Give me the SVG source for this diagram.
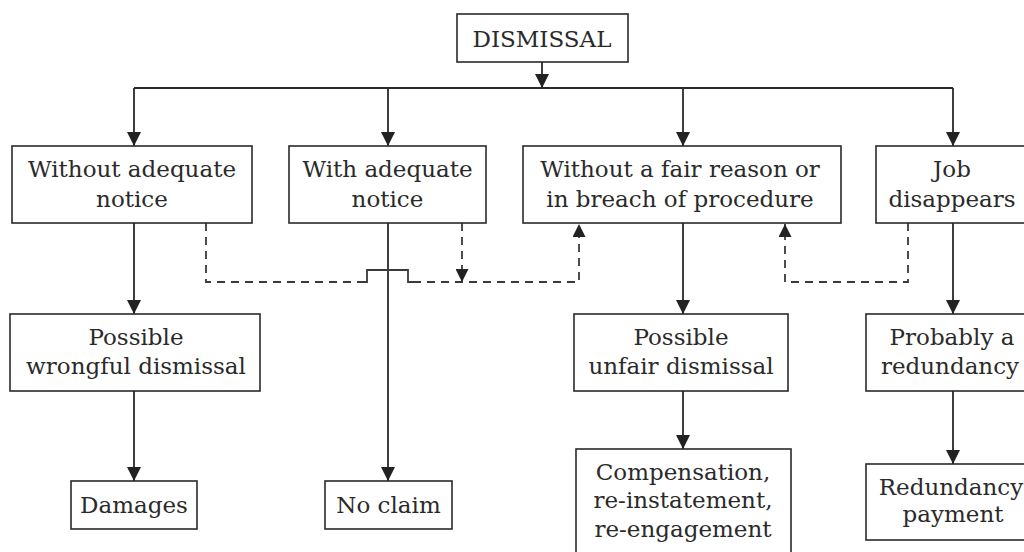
<svg xmlns="http://www.w3.org/2000/svg" width="1024" height="552" viewBox="0 0 1024 552">
<defs>
<style>
.box{fill:#fff;stroke:#2a2a2a;stroke-width:1.6}
.t{font-family:"DejaVu Serif","Liberation Serif",serif;font-size:23px;fill:#2a2a2a;text-anchor:middle}
.c{fill:none;stroke:#2a2a2a;stroke-width:1.8}
.d{fill:none;stroke:#3a3a3a;stroke-width:1.8;stroke-dasharray:8 6}
</style>
<marker id="ah" viewBox="0 0 14 14" refX="14" refY="7" markerWidth="14" markerHeight="14" markerUnits="userSpaceOnUse" orient="auto">
<path d="M0,0 L14,7 L0,14 z" fill="#222"/>
</marker>
<marker id="ahs" viewBox="0 0 13 13" refX="13" refY="6.5" markerWidth="13" markerHeight="13" markerUnits="userSpaceOnUse" orient="auto">
<path d="M0,0 L13,6.5 L0,13 z" fill="#222"/>
</marker>
</defs>
<rect width="1024" height="552" fill="#fff"/>
<g id="connectors">
<path class="c" d="M542,62 V88" marker-end="url(#ah)"/>
<path class="c" d="M134,88 H953"/>
<path class="c" d="M134,88 V146" marker-end="url(#ah)"/>
<path class="c" d="M388,88 V146" marker-end="url(#ah)"/>
<path class="c" d="M683,88 V146" marker-end="url(#ah)"/>
<path class="c" d="M953,88 V146" marker-end="url(#ah)"/>
<path class="c" d="M134,223 V314" marker-end="url(#ah)"/>
<path class="c" d="M134,391 V481" marker-end="url(#ah)"/>
<path class="c" d="M388,223 V481" marker-end="url(#ah)"/>
<path class="c" d="M683,223 V314" marker-end="url(#ah)"/>
<path class="c" d="M683,391 V449" marker-end="url(#ah)"/>
<path class="c" d="M953,223 V314" marker-end="url(#ah)"/>
<path class="c" d="M953,391 V464" marker-end="url(#ah)"/>
<path class="d" d="M206,223 V282 H362"/>
<path class="c" d="M362,282 H367 V270 H408 V282 H413" style="stroke:#3a3a3a"/>
<path class="d" d="M413,282 H579 V224" marker-end="url(#ahs)"/>
<path class="d" d="M462,223 V282" marker-end="url(#ahs)"/>
<path class="d" d="M908,223 V282 H785 V224" marker-end="url(#ahs)"/>
</g>
<g id="dismissal">
<rect class="box" x="457" y="14" width="171" height="48"/>
<text class="t" x="542" y="47">DISMISSAL</text>
</g>
<g id="without-notice">
<rect class="box" x="12" y="146" width="240" height="77"/>
<text class="t" x="132" y="177">Without adequate</text>
<text class="t" x="132" y="207">notice</text>
</g>
<g id="with-notice">
<rect class="box" x="289" y="146" width="197" height="77"/>
<text class="t" x="387.5" y="177">With adequate</text>
<text class="t" x="387.5" y="207">notice</text>
</g>
<g id="without-fair-reason">
<rect class="box" x="523" y="146" width="318" height="77"/>
<text class="t" x="680" y="177">Without a fair reason or</text>
<text class="t" x="680" y="207">in breach of procedure</text>
</g>
<g id="job-disappears">
<rect class="box" x="876" y="146" width="160" height="77"/>
<text class="t" x="952" y="177">Job</text>
<text class="t" x="952" y="207">disappears</text>
</g>
<g id="wrongful">
<rect class="box" x="10" y="314" width="250" height="77"/>
<text class="t" x="136" y="345">Possible</text>
<text class="t" x="136" y="374">wrongful dismissal</text>
</g>
<g id="unfair">
<rect class="box" x="574" y="314" width="214" height="77"/>
<text class="t" x="681" y="345">Possible</text>
<text class="t" x="681" y="374">unfair dismissal</text>
</g>
<g id="redundancy">
<rect class="box" x="866" y="314" width="170" height="77"/>
<text class="t" x="952" y="345">Probably a</text>
<text class="t" x="950" y="374">redundancy</text>
</g>
<g id="damages">
<rect class="box" x="71" y="481" width="126" height="48"/>
<text class="t" x="134" y="513">Damages</text>
</g>
<g id="no-claim">
<rect class="box" x="325" y="481" width="127" height="48"/>
<text class="t" x="388.5" y="513">No claim</text>
</g>
<g id="compensation">
<rect class="box" x="576" y="449" width="215" height="112"/>
<text class="t" x="683" y="480">Compensation,</text>
<text class="t" x="683" y="508">re-instatement,</text>
<text class="t" x="683" y="537">re-engagement</text>
</g>
<g id="redundancy-payment">
<rect class="box" x="866" y="464" width="170" height="76"/>
<text class="t" x="951" y="495">Redundancy</text>
<text class="t" x="953" y="522">payment</text>
</g>
</svg>
